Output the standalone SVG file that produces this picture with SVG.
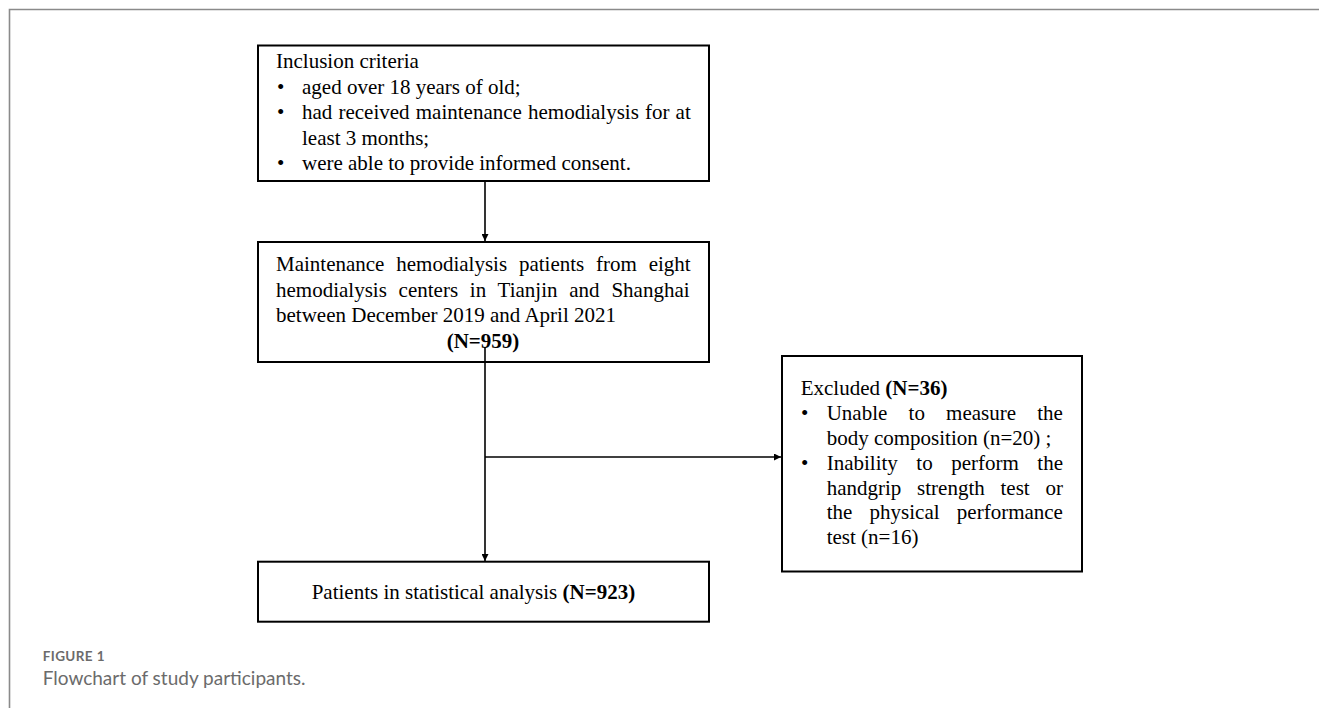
<svg xmlns="http://www.w3.org/2000/svg" width="1319" height="708" viewBox="0 0 1319 708">
<style>
.box{fill:#fff;stroke:#000;stroke-width:2}
.t{font-family:"Liberation Serif","Times New Roman",serif;font-size:21px;fill:#000}
.b{font-weight:bold}
.conn{fill:none;stroke:#000;stroke-width:1.6}
.cap1{font-family:Lato,"Open Sans",sans-serif;font-size:13.5px;font-weight:bold;fill:#6b6b6b;letter-spacing:0.4px}
.cap2{font-family:Lato,"Open Sans",sans-serif;font-size:19px;fill:#6b6b6b}
</style>
<defs>
<marker id="arr" markerUnits="userSpaceOnUse" markerWidth="8" markerHeight="7" refX="7" refY="3.5" orient="auto">
<path d="M0,0 L7,3.5 L0,7 z" fill="#000"/>
</marker>
</defs>
<rect width="1319" height="708" fill="#fff"/>
<path d="M9.5,708 V9.5 H1319" fill="none" stroke="#8a8a8a" stroke-width="1.6"/>

<g id="inclusion">
<rect class="box" x="258" y="45.5" width="451" height="135.5"/>
<text class="t" x="276" y="68">Inclusion criteria</text>
<text class="t" x="277" y="93.5">•</text>
<text class="t" x="302" y="93.5">aged over 18 years of old;</text>
<text class="t" x="277" y="119">•</text>
<text class="t" x="302" y="119" word-spacing="0.9">had received maintenance hemodialysis for at</text>
<text class="t" x="302" y="144.5">least 3 months;</text>
<text class="t" x="277" y="170">•</text>
<text class="t" x="302" y="170">were able to provide informed consent.</text>
</g>

<g id="patients">
<rect class="box" x="258" y="242" width="451" height="120"/>
<text class="t" x="276" y="270.7" word-spacing="6.56">Maintenance hemodialysis patients from eight</text>
<text class="t" x="276" y="296.7" word-spacing="6.53">hemodialysis centers in Tianjin and Shanghai</text>
<text class="t" x="276" y="321.7">between December 2019 and April 2021</text>
<text class="t b" x="483" y="348" text-anchor="middle">(N=959)</text>
</g>

<g id="excluded">
<rect class="box" x="782" y="356" width="300" height="215.5"/>
<text class="t" x="800.7" y="394.5">Excluded <tspan class="b">(N=36)</tspan></text>
<text class="t" x="801" y="419.5">•</text>
<text class="t" x="826.7" y="419.5" word-spacing="15.97">Unable to measure the</text>
<text class="t" x="826.7" y="444.5">body composition (n=20) ;</text>
<text class="t" x="801" y="469.5">•</text>
<text class="t" x="826.7" y="469.5" word-spacing="13.25">Inability to perform the</text>
<text class="t" x="826.7" y="494.5" word-spacing="10.5">handgrip strength test or</text>
<text class="t" x="826.7" y="519" word-spacing="12">the physical performance</text>
<text class="t" x="826.7" y="544">test (n=16)</text>
</g>

<g id="analysis">
<rect class="box" x="258" y="561.7" width="451" height="60"/>
<text class="t" x="311.7" y="599">Patients in statistical analysis <tspan class="b">(N=923)</tspan></text>
</g>

<g id="connectors">
<line class="conn" x1="485" y1="181" x2="485" y2="241" marker-end="url(#arr)"/>
<line class="conn" x1="485" y1="347" x2="485" y2="561" marker-end="url(#arr)"/>
<line class="conn" x1="485" y1="457" x2="781" y2="457" marker-end="url(#arr)"/>
</g>

<g id="caption">
<text class="cap1" x="42.7" y="661">FIGURE 1</text>
<text class="cap2" x="42.7" y="685">Flowchart of study participants.</text>
</g>
</svg>
